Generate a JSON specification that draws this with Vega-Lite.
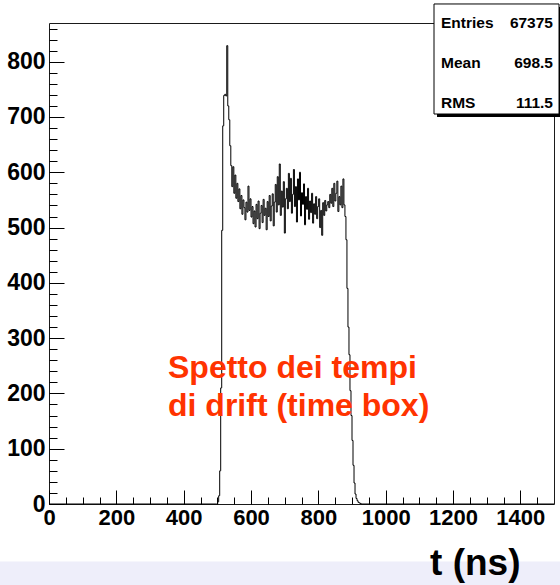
{
  "$schema": "https://vega.github.io/schema/vega-lite/v6.json",
  "width": 505,
  "height": 481,
  "autosize": "none",
  "padding": {"left": 49, "top": 23, "right": 6, "bottom": 81},
  "background": "white",
  "config": {"view": {"stroke": "#1a1a1a", "strokeWidth": 1}, "font": "Liberation Sans"},
  "data": {"values": [{}]},
  "datasets": {
    "hist": [
      {"t": 0, "n": 0}, {"t": 498, "n": 0}, {"t": 501, "n": 4}, {"t": 504, "n": 15}, {"t": 507, "n": 60}, {"t": 510, "n": 210},
      {"t": 513, "n": 495}, {"t": 516, "n": 684}, {"t": 519, "n": 739}, {"t": 522, "n": 741}, {"t": 525, "n": 738}, {"t": 528, "n": 829},
      {"t": 531, "n": 720}, {"t": 534, "n": 695}, {"t": 537, "n": 648}, {"t": 540, "n": 612}, {"t": 543, "n": 574},
      {"t": 546, "n": 610}, {"t": 549, "n": 562}, {"t": 552, "n": 595}, {"t": 555, "n": 553}, {"t": 558, "n": 580}, {"t": 561, "n": 547},
      {"t": 564, "n": 570}, {"t": 567, "n": 534}, {"t": 570, "n": 558}, {"t": 573, "n": 524}, {"t": 576, "n": 550}, {"t": 579, "n": 536},
      {"t": 582, "n": 514}, {"t": 585, "n": 546}, {"t": 588, "n": 528}, {"t": 591, "n": 575}, {"t": 594, "n": 531}, {"t": 597, "n": 552},
      {"t": 600, "n": 519}, {"t": 603, "n": 538}, {"t": 606, "n": 507}, {"t": 609, "n": 530}, {"t": 612, "n": 501}, {"t": 615, "n": 542},
      {"t": 618, "n": 516}, {"t": 621, "n": 548}, {"t": 624, "n": 498}, {"t": 627, "n": 526}, {"t": 630, "n": 540}, {"t": 633, "n": 509},
      {"t": 636, "n": 551}, {"t": 639, "n": 522}, {"t": 642, "n": 535}, {"t": 645, "n": 496}, {"t": 648, "n": 547}, {"t": 651, "n": 520},
      {"t": 654, "n": 558}, {"t": 657, "n": 512}, {"t": 660, "n": 539}, {"t": 663, "n": 561}, {"t": 666, "n": 503}, {"t": 669, "n": 546},
      {"t": 672, "n": 578}, {"t": 675, "n": 528}, {"t": 678, "n": 592}, {"t": 681, "n": 541}, {"t": 684, "n": 615}, {"t": 687, "n": 522},
      {"t": 690, "n": 566}, {"t": 693, "n": 537}, {"t": 696, "n": 583}, {"t": 699, "n": 490}, {"t": 702, "n": 552}, {"t": 705, "n": 571},
      {"t": 708, "n": 534}, {"t": 711, "n": 598}, {"t": 714, "n": 547}, {"t": 717, "n": 589}, {"t": 720, "n": 526}, {"t": 723, "n": 560},
      {"t": 726, "n": 605}, {"t": 729, "n": 538}, {"t": 732, "n": 574}, {"t": 735, "n": 510}, {"t": 738, "n": 588}, {"t": 741, "n": 550},
      {"t": 744, "n": 600}, {"t": 747, "n": 521}, {"t": 750, "n": 563}, {"t": 753, "n": 542}, {"t": 756, "n": 579}, {"t": 759, "n": 505},
      {"t": 762, "n": 556}, {"t": 765, "n": 533}, {"t": 768, "n": 571}, {"t": 771, "n": 515}, {"t": 774, "n": 548}, {"t": 777, "n": 527},
      {"t": 780, "n": 562}, {"t": 783, "n": 508}, {"t": 786, "n": 543}, {"t": 789, "n": 524}, {"t": 792, "n": 556}, {"t": 795, "n": 516},
      {"t": 798, "n": 538}, {"t": 801, "n": 552}, {"t": 804, "n": 500}, {"t": 807, "n": 531}, {"t": 810, "n": 486}, {"t": 813, "n": 545},
      {"t": 816, "n": 522}, {"t": 819, "n": 549}, {"t": 822, "n": 530}, {"t": 825, "n": 541}, {"t": 828, "n": 547}, {"t": 831, "n": 536},
      {"t": 834, "n": 560}, {"t": 837, "n": 544}, {"t": 840, "n": 571}, {"t": 843, "n": 538}, {"t": 846, "n": 580}, {"t": 849, "n": 548},
      {"t": 852, "n": 562}, {"t": 855, "n": 584}, {"t": 858, "n": 529}, {"t": 861, "n": 556}, {"t": 864, "n": 541}, {"t": 867, "n": 575},
      {"t": 870, "n": 536}, {"t": 873, "n": 588}, {"t": 876, "n": 541},
      {"t": 879, "n": 520}, {"t": 882, "n": 478}, {"t": 885, "n": 390}, {"t": 888, "n": 320}, {"t": 891, "n": 270}, {"t": 894, "n": 205},
      {"t": 897, "n": 160}, {"t": 900, "n": 115}, {"t": 903, "n": 70}, {"t": 906, "n": 38}, {"t": 909, "n": 18}, {"t": 912, "n": 10},
      {"t": 915, "n": 6}, {"t": 918, "n": 3}, {"t": 921, "n": 2}, {"t": 924, "n": 1}, {"t": 927, "n": 0}, {"t": 1500, "n": 0}
    ]
  },
  "resolve": {"axis": {"x": "independent", "y": "independent"}},
  "layer": [
    {
      "mark": {"type": "rect", "color": "#eeeefa"},
      "encoding": {
        "x": {"datum": -200, "type": "quantitative", "scale": {"domain": [0, 1500], "nice": false, "zero": false}, "axis": null},
        "x2": {"datum": 1600},
        "y": {"datum": -104, "type": "quantitative", "scale": {"domain": [0, 870], "nice": false, "zero": false}, "axis": null},
        "y2": {"datum": -160}
      }
    },
    {
      "data": {"name": "hist"},
      "mark": {"type": "line", "interpolate": "step-after", "color": "#000000", "strokeWidth": 1},
      "encoding": {
        "x": {
          "field": "t", "type": "quantitative",
          "scale": {"domain": [0, 1500], "nice": false, "zero": false},
          "axis": {
            "orient": "bottom", "values": [0, 200, 400, 600, 800, 1000, 1200, 1400], "format": "d",
            "domain": false, "grid": false, "tickSize": -14, "tickColor": "#000", "tickWidth": 1,
            "labelPadding": 17, "labelFont": "Liberation Sans", "labelFontWeight": "bold", "labelFontSize": 22,
            "labelColor": "#000", "labelFlush": false, "labelOverlap": false, "labelBound": false,
            "title": "t (ns)", "titleFont": "Liberation Sans", "titleFontWeight": "bold", "titleFontSize": 37,
            "titleColor": "#000", "titleX": 471, "titleY": 70, "titleAlign": "right", "titleBaseline": "alphabetic",
            "titleAnchor": null, "zindex": 1
          }
        },
        "y": {
          "field": "n", "type": "quantitative",
          "scale": {"domain": [0, 870], "nice": false, "zero": false},
          "axis": {
            "orient": "left", "values": [0, 100, 200, 300, 400, 500, 600, 700, 800], "format": "d",
            "domain": false, "grid": false, "tickSize": -15, "tickColor": "#000", "tickWidth": 1,
            "labelPadding": 19, "labelFont": "Liberation Sans", "labelFontWeight": "bold", "labelFontSize": 23,
            "labelColor": "#000", "labelFlush": false, "labelOverlap": false, "labelBound": false,
            "title": null, "zindex": 1
          }
        }
      }
    },
    {
      "data": {"name": "hist"},
      "mark": {"type": "line", "interpolate": "step-after", "opacity": 0},
      "encoding": {
        "x": {
          "field": "t", "type": "quantitative",
          "scale": {"domain": [0, 1500], "nice": false, "zero": false},
          "axis": {
            "orient": "bottom",
            "values": [50, 100, 150, 250, 300, 350, 450, 500, 550, 650, 700, 750, 850, 900, 950, 1050, 1100, 1150, 1250, 1300, 1350, 1450],
            "domain": false, "grid": false, "labels": false, "tickSize": -7, "tickColor": "#000", "tickWidth": 1, "title": null, "zindex": 1
          }
        },
        "y": {
          "field": "n", "type": "quantitative",
          "scale": {"domain": [0, 870], "nice": false, "zero": false},
          "axis": {
            "orient": "left",
            "values": [20, 40, 60, 80, 120, 140, 160, 180, 220, 240, 260, 280, 320, 340, 360, 380, 420, 440, 460, 480, 520, 540, 560, 580, 620, 640, 660, 680, 720, 740, 760, 780, 820, 840, 860],
            "domain": false, "grid": false, "labels": false, "tickSize": -8, "tickColor": "#000", "tickWidth": 1, "title": null, "zindex": 1
          }
        }
      }
    },
    {
      "mark": {"type": "text", "text": ["Spetto dei tempi", "di drift (time box)"], "font": "Liberation Sans", "fontWeight": "bold", "fontSize": 32, "lineHeight": 38, "color": "#ff3300", "align": "left", "baseline": "alphabetic"},
      "encoding": {
        "x": {"datum": 353.5, "type": "quantitative", "axis": null},
        "y": {"datum": 228, "type": "quantitative", "axis": null}
      }
    },
    {
      "mark": {"type": "rect", "color": "#000000"},
      "encoding": {
        "x": {"datum": 1152.5, "type": "quantitative", "axis": null},
        "x2": {"datum": 1526.7},
        "y": {"datum": 898.9, "type": "quantitative", "axis": null},
        "y2": {"datum": 700}
      }
    },
    {
      "mark": {"type": "rect", "fill": "#ffffff", "stroke": "#000000", "strokeWidth": 1},
      "encoding": {
        "x": {"datum": 1143.6, "type": "quantitative", "axis": null},
        "x2": {"datum": 1514.9},
        "y": {"datum": 904.4, "type": "quantitative", "axis": null},
        "y2": {"datum": 705.4}
      }
    },
    {
      "mark": {"type": "text", "text": ["Entries", "Mean", "RMS"], "font": "Liberation Sans", "fontWeight": "bold", "fontSize": 15.5, "lineHeight": 40, "color": "#000", "align": "left", "baseline": "alphabetic"},
      "encoding": {
        "x": {"datum": 1164.4, "type": "quantitative", "axis": null},
        "y": {"datum": 861, "type": "quantitative", "axis": null}
      }
    },
    {
      "mark": {"type": "text", "text": ["67375", "698.5", "111.5"], "font": "Liberation Sans", "fontWeight": "bold", "fontSize": 15.5, "lineHeight": 40, "color": "#000", "align": "right", "baseline": "alphabetic"},
      "encoding": {
        "x": {"datum": 1497, "type": "quantitative", "axis": null},
        "y": {"datum": 861, "type": "quantitative", "axis": null}
      }
    }
  ]
}
